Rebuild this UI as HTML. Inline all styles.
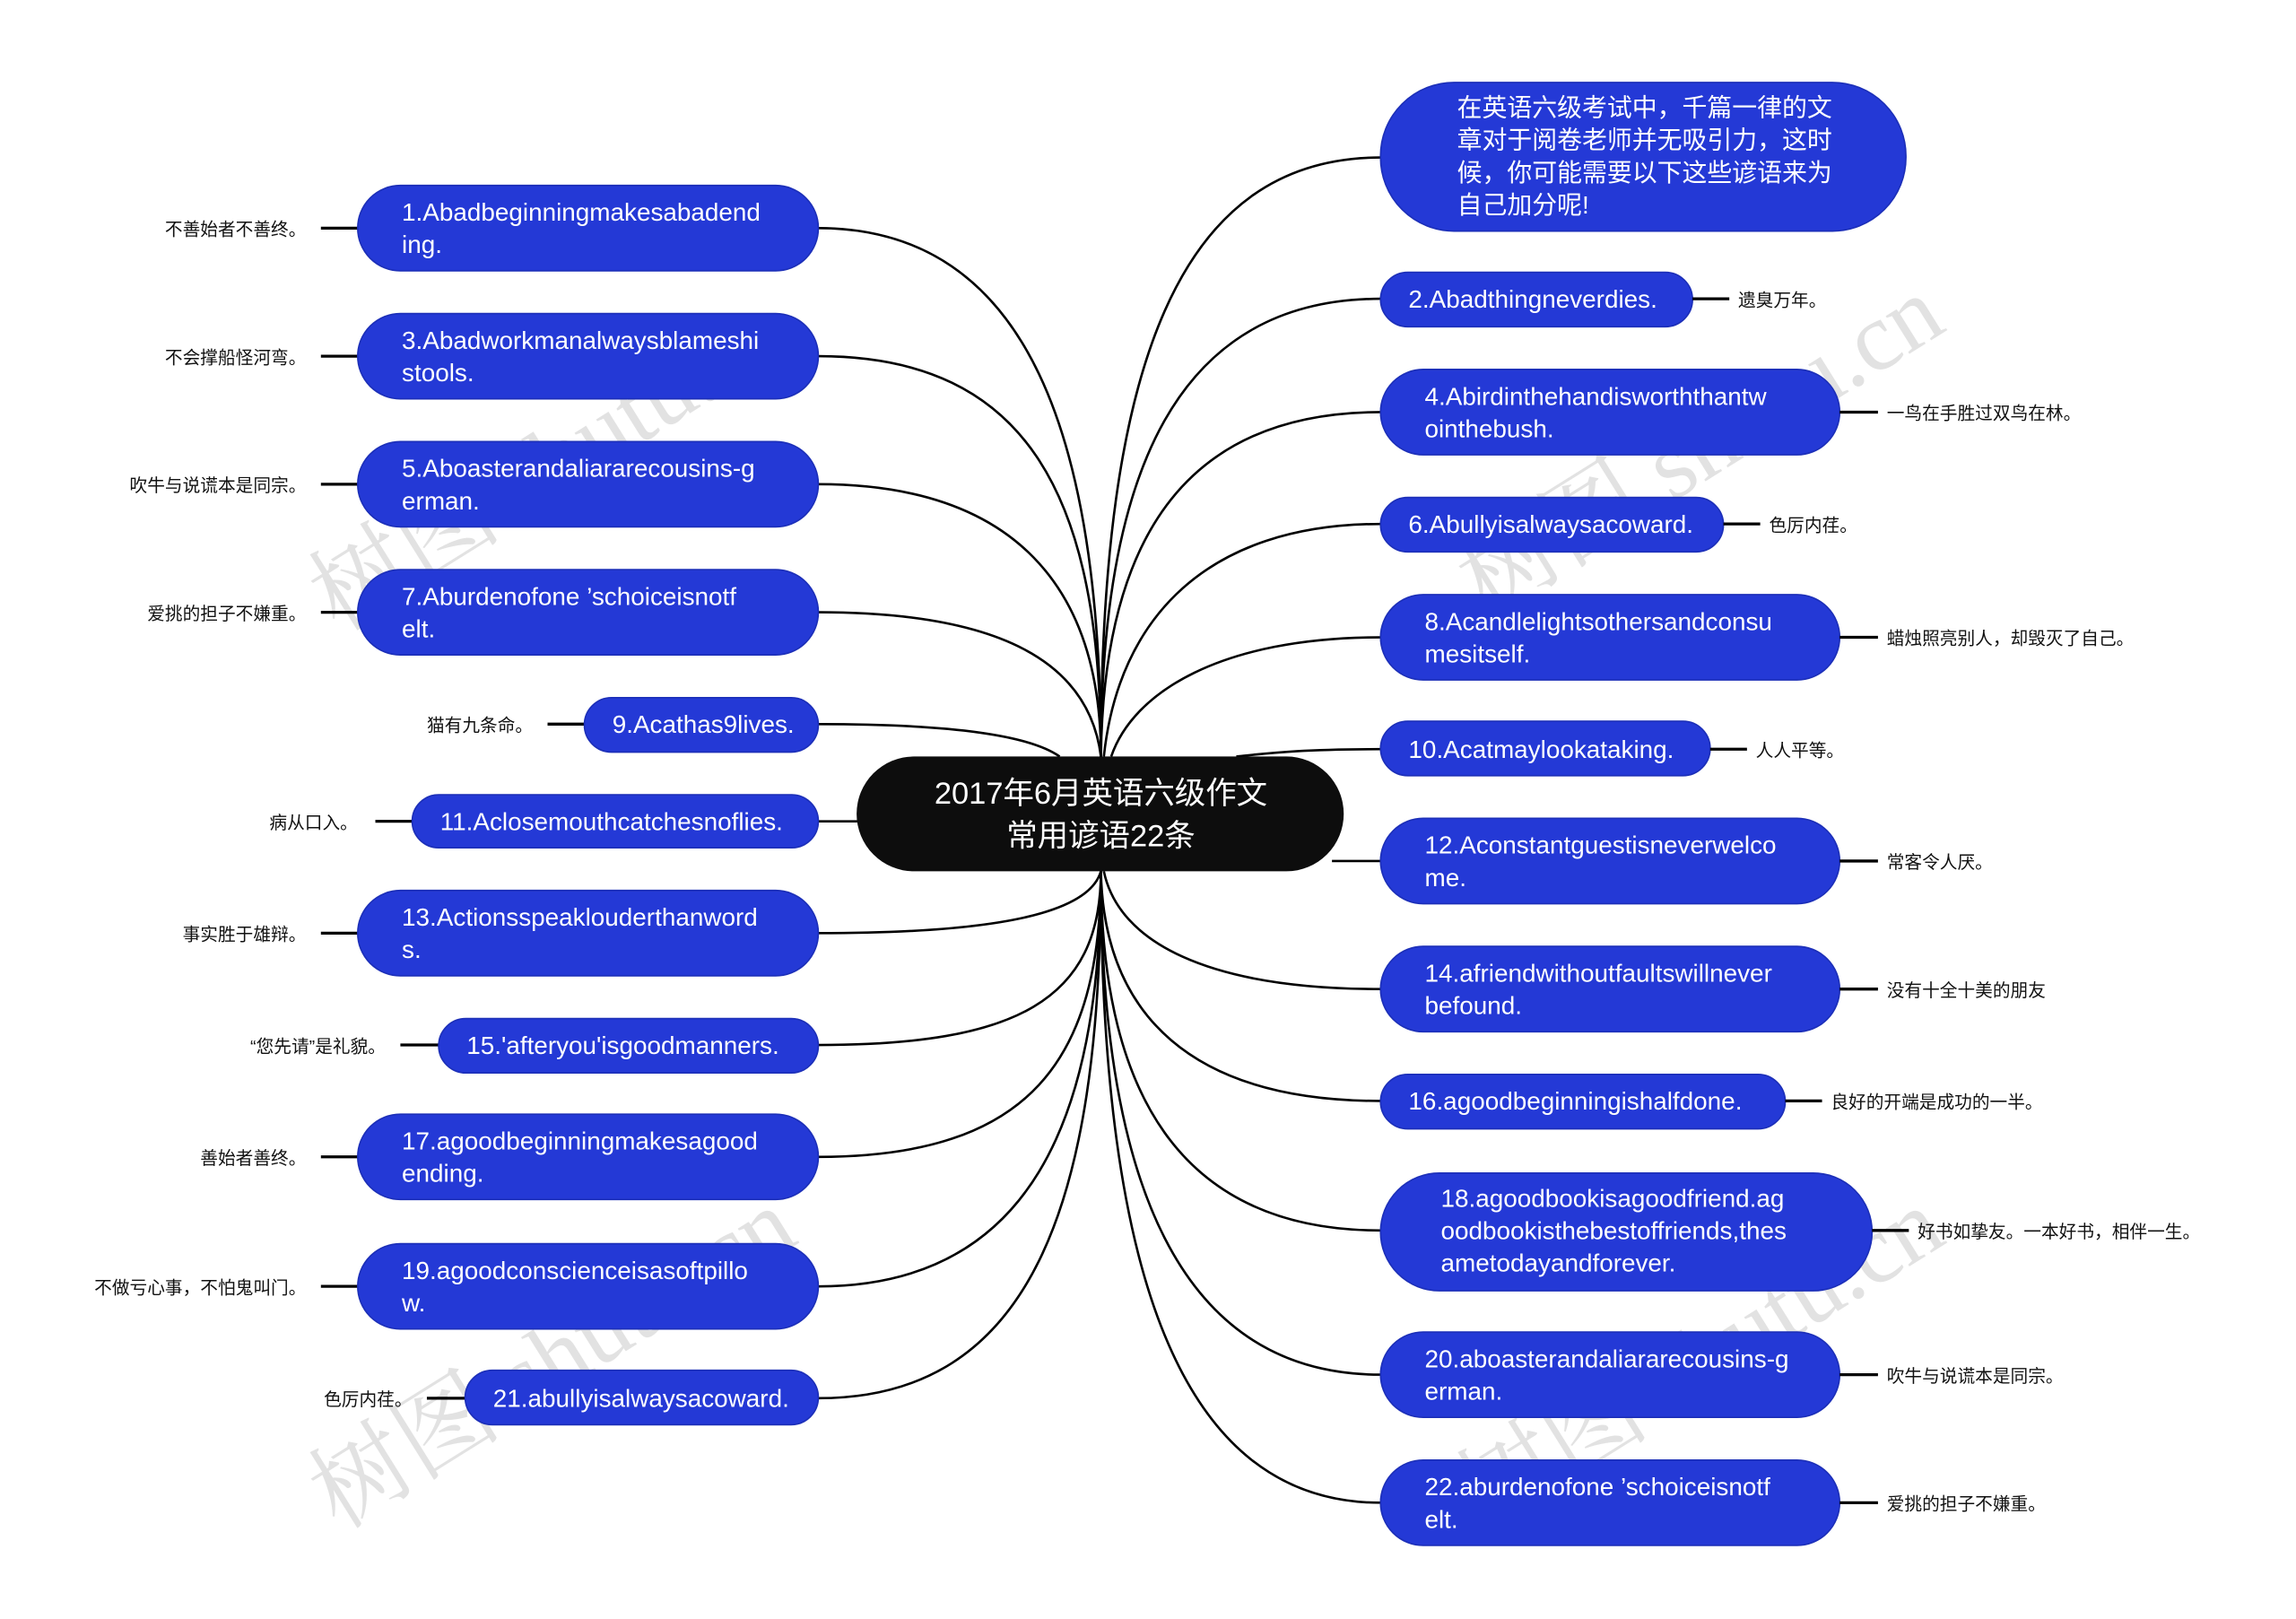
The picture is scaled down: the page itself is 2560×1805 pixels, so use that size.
<!DOCTYPE html>
<html><head><meta charset="utf-8"><style>
html,body{margin:0;padding:0;background:#fff;}
svg{display:block}
.n{fill:#2439d6;stroke:#1c2fb8;stroke-width:1}
.t{fill:#fff;font-family:"Liberation Sans","Noto Sans CJK SC",sans-serif;font-size:17px}
.l{fill:#111;font-family:"Liberation Sans","Noto Sans CJK SC",sans-serif;font-size:12px}
.e{fill:none;stroke:#000;stroke-width:1.6}
.s{stroke:#000;stroke-width:2}
.w{fill:#ccc;opacity:0.55;font-family:"Liberation Serif","Noto Serif CJK SC",serif;font-size:66px}
</style></head><body>
<svg width="2560" height="1805" viewBox="0 0 1560 1100" xmlns="http://www.w3.org/2000/svg">
<path class="e" d="M556 155 C700 155 748 300 748 514"/>
<path class="e" d="M556 242 C700 242 748 340 748 514"/>
<path class="e" d="M556 329 C690 329 748 400 748 514"/>
<path class="e" d="M556 416 C680 416 740 450 748 514"/>
<path class="e" d="M556 492 C650 492 700 500 720 514"/>
<path class="e" d="M556 558 L585 558"/>
<path class="e" d="M556 634 C680 634 740 620 748 592"/>
<path class="e" d="M556 710 C690 710 748 680 748 592"/>
<path class="e" d="M556 786 C700 786 748 720 748 592"/>
<path class="e" d="M556 874 C700 874 748 760 748 592"/>
<path class="e" d="M556 950 C700 950 748 820 748 592"/>
<path class="e" d="M938 107 C800 107 748 250 748 514"/>
<path class="e" d="M938 203 C800 203 748 320 748 514"/>
<path class="e" d="M938 280 C810 280 750 360 748 514"/>
<path class="e" d="M938 356 C820 356 760 420 750 514"/>
<path class="e" d="M938 433 C830 433 770 470 755 514"/>
<path class="e" d="M938 509 C880 509 860 512 840 514"/>
<path class="e" d="M938 585 L905 585"/>
<path class="e" d="M938 672 C820 672 760 640 750 592"/>
<path class="e" d="M938 748 C810 748 750 690 748 592"/>
<path class="e" d="M938 836 C800 836 748 740 748 592"/>
<path class="e" d="M938 934 C800 934 748 800 748 592"/>
<path class="e" d="M938 1021 C800 1021 748 860 748 592"/>
<text class="w" transform="translate(230,1040) rotate(-32)">树图 shutu.cn</text>
<text class="w" transform="translate(230,430) rotate(-32)">树图 shutu.cn</text>
<text class="w" transform="translate(1010,420) rotate(-32)">树图 shutu.cn</text>
<text class="w" transform="translate(1010,1040) rotate(-32)">树图 shutu.cn</text>
<rect x="582" y="514" width="331" height="78" rx="39" fill="#0d0d0d"/>
<text x="748" y="546" text-anchor="middle" fill="#fff" font-family="Liberation Sans,Noto Sans CJK SC,sans-serif" font-size="21">2017年6月英语六级作文</text>
<text x="748" y="575" text-anchor="middle" fill="#fff" font-family="Liberation Sans,Noto Sans CJK SC,sans-serif" font-size="21">常用谚语22条</text>
<g>
<line class="s" x1="218" y1="155" x2="243" y2="155"/><text class="l" x="208" y="160" text-anchor="end">不善始者不善终。</text>
<rect class="n" x="243" y="126" width="313" height="58" rx="29"/><text class="t" x="273" y="150">1.Abadbeginningmakesabadend</text><text class="t" x="273" y="172">ing.</text>
<line class="s" x1="218" y1="242" x2="243" y2="242"/><text class="l" x="208" y="247" text-anchor="end">不会撑船怪河弯。</text>
<rect class="n" x="243" y="213" width="313" height="58" rx="29"/><text class="t" x="273" y="237">3.Abadworkmanalwaysblameshi</text><text class="t" x="273" y="259">stools.</text>
<line class="s" x1="218" y1="329" x2="243" y2="329"/><text class="l" x="208" y="334" text-anchor="end">吹牛与说谎本是同宗。</text>
<rect class="n" x="243" y="300" width="313" height="58" rx="29"/><text class="t" x="273" y="324">5.Aboasterandaliararecousins-g</text><text class="t" x="273" y="346">erman.</text>
<line class="s" x1="218" y1="416" x2="243" y2="416"/><text class="l" x="208" y="421" text-anchor="end">爱挑的担子不嫌重。</text>
<rect class="n" x="243" y="387" width="313" height="58" rx="29"/><text class="t" x="273" y="411">7.Aburdenofone ’schoiceisnotf</text><text class="t" x="273" y="433">elt.</text>
<line class="s" x1="372" y1="492" x2="397" y2="492"/><text class="l" x="362" y="497" text-anchor="end">猫有九条命。</text>
<rect class="n" x="397" y="474" width="159" height="37" rx="18.5"/><text class="t" x="416" y="498">9.Acathas9lives.</text>
<line class="s" x1="255" y1="558" x2="280" y2="558"/><text class="l" x="243" y="563" text-anchor="end">病从口入。</text>
<rect class="n" x="280" y="540" width="276" height="36" rx="18"/><text class="t" x="299" y="564">11.Aclosemouthcatchesnoflies.</text>
<line class="s" x1="218" y1="634" x2="243" y2="634"/><text class="l" x="208" y="639" text-anchor="end">事实胜于雄辩。</text>
<rect class="n" x="243" y="605" width="313" height="58" rx="29"/><text class="t" x="273" y="629">13.Actionsspeaklouderthanword</text><text class="t" x="273" y="651">s.</text>
<line class="s" x1="272" y1="710" x2="298" y2="710"/><text class="l" x="262" y="715" text-anchor="end">“您先请”是礼貌。</text>
<rect class="n" x="298" y="692" width="258" height="37" rx="18.5"/><text class="t" x="317" y="716">15.'afteryou'isgoodmanners.</text>
<line class="s" x1="218" y1="786" x2="243" y2="786"/><text class="l" x="208" y="791" text-anchor="end">善始者善终。</text>
<rect class="n" x="243" y="757" width="313" height="58" rx="29"/><text class="t" x="273" y="781">17.agoodbeginningmakesagood</text><text class="t" x="273" y="803">ending.</text>
<line class="s" x1="218" y1="874" x2="243" y2="874"/><text class="l" x="208" y="879" text-anchor="end">不做亏心事，不怕鬼叫门。</text>
<rect class="n" x="243" y="845" width="313" height="58" rx="29"/><text class="t" x="273" y="869">19.agoodconscienceisasoftpillo</text><text class="t" x="273" y="891">w.</text>
<line class="s" x1="290" y1="950" x2="316" y2="950"/><text class="l" x="280" y="955" text-anchor="end">色厉内荏。</text>
<rect class="n" x="316" y="931" width="240" height="37" rx="18.5"/><text class="t" x="335" y="956">21.abullyisalwaysacoward.</text>
</g>
<g>
<rect class="n" x="938" y="56" width="357" height="101" rx="50"/>
<text class="t" x="990" y="79">在英语六级考试中，千篇一律的文</text>
<text class="t" x="990" y="101">章对于阅卷老师并无吸引力，这时</text>
<text class="t" x="990" y="123">候，你可能需要以下这些谚语来为</text>
<text class="t" x="990" y="145">自己加分呢!</text>
<rect class="n" x="938" y="185" width="212" height="37" rx="18.5"/><text class="t" x="957" y="209">2.Abadthingneverdies.</text>
<line class="s" x1="1150" y1="203" x2="1175" y2="203"/><text class="l" x="1181" y="208">遗臭万年。</text>
<rect class="n" x="938" y="251" width="312" height="58" rx="29"/><text class="t" x="968" y="275">4.Abirdinthehandisworththantw</text><text class="t" x="968" y="297">ointhebush.</text>
<line class="s" x1="1250" y1="280" x2="1276" y2="280"/><text class="l" x="1282" y="285">一鸟在手胜过双鸟在林。</text>
<rect class="n" x="938" y="338" width="233" height="37" rx="18.5"/><text class="t" x="957" y="362">6.Abullyisalwaysacoward.</text>
<line class="s" x1="1171" y1="356" x2="1196" y2="356"/><text class="l" x="1202" y="361">色厉内荏。</text>
<rect class="n" x="938" y="404" width="312" height="58" rx="29"/><text class="t" x="968" y="428">8.Acandlelightsothersandconsu</text><text class="t" x="968" y="450">mesitself.</text>
<line class="s" x1="1250" y1="433" x2="1276" y2="433"/><text class="l" x="1282" y="438">蜡烛照亮别人，却毁灭了自己。</text>
<rect class="n" x="938" y="490" width="224" height="37" rx="18.5"/><text class="t" x="957" y="515">10.Acatmaylookataking.</text>
<line class="s" x1="1162" y1="509" x2="1187" y2="509"/><text class="l" x="1193" y="514">人人平等。</text>
<rect class="n" x="938" y="556" width="312" height="58" rx="29"/><text class="t" x="968" y="580">12.Aconstantguestisneverwelco</text><text class="t" x="968" y="602">me.</text>
<line class="s" x1="1250" y1="585" x2="1276" y2="585"/><text class="l" x="1282" y="590">常客令人厌。</text>
<rect class="n" x="938" y="643" width="312" height="58" rx="29"/><text class="t" x="968" y="667">14.afriendwithoutfaultswillnever</text><text class="t" x="968" y="689">befound.</text>
<line class="s" x1="1250" y1="672" x2="1276" y2="672"/><text class="l" x="1282" y="677">没有十全十美的朋友</text>
<rect class="n" x="938" y="730" width="275" height="37" rx="18.5"/><text class="t" x="957" y="754">16.agoodbeginningishalfdone.</text>
<line class="s" x1="1213" y1="748" x2="1238" y2="748"/><text class="l" x="1244" y="753">良好的开端是成功的一半。</text>
<rect class="n" x="938" y="797" width="334" height="80" rx="40"/>
<text class="t" x="979" y="820">18.agoodbookisagoodfriend.ag</text>
<text class="t" x="979" y="842">oodbookisthebestoffriends,thes</text>
<text class="t" x="979" y="864">ametodayandforever.</text>
<line class="s" x1="1272" y1="836" x2="1297" y2="836"/><text class="l" x="1303" y="841">好书如挚友。一本好书，相伴一生。</text>
<rect class="n" x="938" y="905" width="312" height="58" rx="29"/><text class="t" x="968" y="929">20.aboasterandaliararecousins-g</text><text class="t" x="968" y="951">erman.</text>
<line class="s" x1="1250" y1="934" x2="1276" y2="934"/><text class="l" x="1282" y="939">吹牛与说谎本是同宗。</text>
<rect class="n" x="938" y="992" width="312" height="58" rx="29"/><text class="t" x="968" y="1016">22.aburdenofone ’schoiceisnotf</text><text class="t" x="968" y="1038">elt.</text>
<line class="s" x1="1250" y1="1021" x2="1276" y2="1021"/><text class="l" x="1282" y="1026">爱挑的担子不嫌重。</text>
</g>
</svg>
</body></html>
